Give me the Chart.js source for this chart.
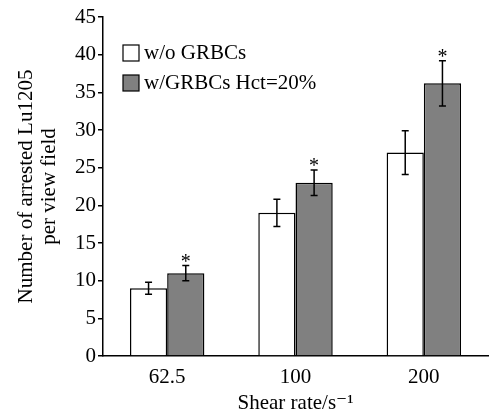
<!DOCTYPE html>
<html lang="en">
<head>
    <meta charset="UTF-8">
    <title>Arrested Lu1205 vs shear rate</title>
    <style>
        html, body {
            margin: 0;
            padding: 0;
            background: #ffffff;
        }
        .chart-container {
            position: relative;
            width: 498px;
            height: 416px;
        }
    </style>
    <script src="https://cdn.jsdelivr.net/npm/chart.js"></script>
</head>
<body>
    <div class="chart-container">
        <canvas id="chart"></canvas>
    </div>
    <script>
        const shearRates = ['62.5', '100', '200'];
        const withoutRbc = [9, 19, 27];
        const withoutRbcErr = [0.8, 1.8, 2.9];
        const withRbc = [11, 23, 36.2];
        const withRbcErr = [1.0, 1.7, 3.0];
        const significant = [true, true, true];
        const yTicks = [0, 5, 10, 15, 20, 25, 30, 35, 40, 45];

        const serif = '"Liberation Serif", "DejaVu Serif", serif';

        // error bars, asterisks and the in-plot legend
        const extrasPlugin = {
            id: 'extras',
            afterDatasetsDraw(chart) {
                const ctx = chart.ctx;
                const y = chart.scales.y;
                const errs = [withoutRbcErr, withRbcErr];
                ctx.save();
                ctx.strokeStyle = '#000';
                ctx.lineWidth = 1.5;
                chart.data.datasets.forEach((ds, di) => {
                    const meta = chart.getDatasetMeta(di);
                    meta.data.forEach((bar, i) => {
                        const v = ds.data[i];
                        const top = y.getPixelForValue(v + errs[di][i]);
                        const bottom = y.getPixelForValue(v - errs[di][i]);
                        ctx.beginPath();
                        ctx.moveTo(bar.x, top);
                        ctx.lineTo(bar.x, bottom);
                        ctx.moveTo(bar.x - 3.5, top);
                        ctx.lineTo(bar.x + 3.5, top);
                        ctx.moveTo(bar.x - 3.5, bottom);
                        ctx.lineTo(bar.x + 3.5, bottom);
                        ctx.stroke();
                        if (di === 1 && significant[i]) {
                            ctx.fillStyle = '#000';
                            ctx.font = '20px ' + serif;
                            ctx.textAlign = 'center';
                            ctx.textBaseline = 'alphabetic';
                            ctx.fillText('*', bar.x, top + 2);
                        }
                    });
                });

                // legend
                const lx = 123;
                const rows = [45, 75];
                chart.data.datasets.forEach((ds, di) => {
                    const ty = rows[di];
                    ctx.fillStyle = ds.backgroundColor;
                    ctx.fillRect(lx, ty, 16, 16);
                    ctx.lineWidth = 1.2;
                    ctx.strokeRect(lx, ty, 16, 16);
                    ctx.fillStyle = '#000';
                    ctx.font = '21px ' + serif;
                    ctx.textAlign = 'left';
                    ctx.textBaseline = 'middle';
                    ctx.fillText(ds.label, lx + 21, ty + 8.5);
                });
                ctx.restore();
            }
        };

        new Chart(document.getElementById('chart'), {
            type: 'bar',
            data: {
                labels: shearRates,
                datasets: [{
                    label: 'w/o GRBCs',
                    data: withoutRbc,
                    backgroundColor: '#ffffff',
                    borderColor: '#000000',
                    borderWidth: 1.5,
                    borderSkipped: 'bottom'
                }, {
                    label: 'w/GRBCs Hct=20%',
                    data: withRbc,
                    backgroundColor: '#808080',
                    borderColor: '#000000',
                    borderWidth: 1.5,
                    borderSkipped: 'bottom'
                }]
            },
            options: {
                responsive: true,
                maintainAspectRatio: false,
                animation: false,
                layout: {
                    padding: { top: 17, right: 10, bottom: 0, left: 15 }
                },
                datasets: {
                    bar: {
                        categoryPercentage: 0.58,
                        barPercentage: 1.0
                    }
                },
                plugins: {
                    legend: { display: false },
                    tooltip: { enabled: false }
                },
                scales: {
                    x: {
                        grid: { display: false, drawTicks: false },
                        border: { color: '#000', width: 1.5 },
                        ticks: {
                            color: '#000',
                            font: { family: serif, size: 21 },
                            padding: 9
                        },
                        title: {
                            display: true,
                            text: 'Shear rate/s\u207B\u00B9',
                            color: '#000',
                            font: { family: serif, size: 21 },
                            padding: { top: 0, bottom: 0 }
                        },
                        afterFit(scale) { scale.height = 60; }
                    },
                    y: {
                        min: 0,
                        max: 45,
                        afterBuildTicks(scale) {
                            scale.ticks = yTicks.map(v => ({ value: v }));
                        },
                        grid: {
                            display: true,
                            drawOnChartArea: false,
                            drawTicks: true,
                            tickLength: 5,
                            color: '#000',
                            lineWidth: 1.5
                        },
                        border: { color: '#000', width: 1.5 },
                        ticks: {
                            color: '#000',
                            font: { family: serif, size: 21 },
                            padding: 2
                        },
                        title: {
                            display: true,
                            text: ['Number of arrested Lu1205', 'per view field'],
                            color: '#000',
                            font: { family: serif, size: 21, lineHeight: 1.08 },
                            padding: { top: 0, bottom: 4 }
                        },
                        afterFit(scale) { scale.width = 88; }
                    }
                }
            },
            plugins: [extrasPlugin]
        });
    </script>
</body>
</html>
